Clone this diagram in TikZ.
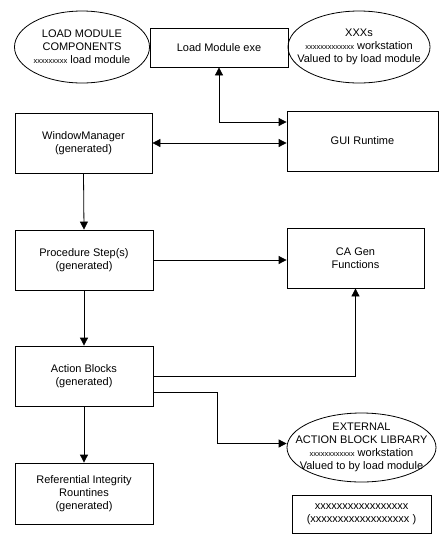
\documentclass[tikz,border=0pt]{standalone}
\usepackage{fontspec}
\setmainfont{Liberation Sans}
\usetikzlibrary{shapes.geometric,arrows.meta}
\newcommand{\xsm}[1]{{\fontsize{7.5}{13}\selectfont #1}}
\tikzset{
  box/.style={draw, line width=0.8pt, rectangle, inner sep=0pt, align=center,
    font=\fontsize{11}{13}\selectfont},
  ell/.style={draw, line width=0.8pt, ellipse, inner sep=0pt},
  etxt/.style={align=center, inner sep=0pt, font=\fontsize{11}{13}\selectfont},
  conn/.style={line width=0.8pt, -{Triangle[length=8pt,width=8pt]}},
  dconn/.style={line width=0.8pt, {Triangle[length=8pt,width=8pt]}-{Triangle[length=8pt,width=8pt]}},
  plain/.style={line width=0.8pt}
}
\begin{document}
\begin{tikzpicture}[x=1pt,y=-1pt]
\useasboundingbox[fill=white] (0,0) rectangle (439,547);

\node[ell, minimum width=135pt, minimum height=72pt] (lmc) at (82,47) {};
\node[etxt] (lmctxt) at (lmc) {LOAD MODULE\\COMPONENTS\\\xsm{xxxxxxxxx} load module};

\node[box, minimum width=138pt, minimum height=39pt] (lme) at (219,47.5) {Load Module exe};

\node[ell, minimum width=142pt, minimum height=72pt] (xxx) at (359,47) {};
\node[etxt] (xxxtxt) at (xxx) {XXXs\\\xsm{xxxxxxxxxxxxx} workstation\\Valued to by load module};

\node[box, minimum width=137pt, minimum height=60pt] (wm) at (83.5,143) {WindowManager\\(generated)};
\node[box, minimum width=151pt, minimum height=60pt] (gui) at (362.5,141) {GUI Runtime};

\node[box, minimum width=138pt, minimum height=60pt] (proc) at (84,260) {Procedure Step(s)\\(generated)};
\node[box, minimum width=137pt, minimum height=60pt] (cagen) at (355.5,258) {CA Gen\\Functions};

\node[box, minimum width=138pt, minimum height=60pt] (ab) at (84,376) {Action Blocks\\(generated)};

\node[ell, minimum width=149pt, minimum height=69pt] (ext) at (361.5,447.5) {};
\node[etxt] (exttxt) at (ext) {EXTERNAL\\ACTION BLOCK LIBRARY\\\xsm{xxxxxxxxxxxx} workstation\\Valued to by load module};

\node[box, minimum width=138pt, minimum height=61pt] (ri) at (84,493.5) {Referential Integrity\\Rountines\\(generated)};

\node[box, minimum width=139pt, minimum height=38pt] (bot) at (361.5,514) {xxxxxxxxxxxxxxxxx\\(xxxxxxxxxxxxxxxxxx )};

% connectors
\draw[dconn] (lme.south) |- ([yshift=19pt]gui.west);
\draw[dconn] (wm.east) -- (wm.east -| gui.west);
\draw[conn] (wm.south) -- (proc.north);
\draw[conn] (proc.east) -- (proc.east -| cagen.west);
\draw[conn] (proc.south) -- (ab.north);
\draw[conn] (ab.east) -| (cagen.south);
\draw[conn] ([yshift=-16pt]ab.east) -- ++(64,0) |- ([yshift=4pt]ext.west);
\draw[conn] (ab.south) -- (ri.north);
\end{tikzpicture}
\end{document}
